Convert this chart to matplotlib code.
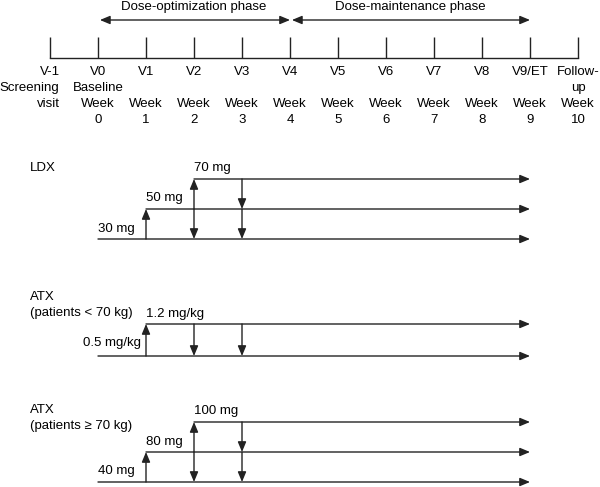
import matplotlib.pyplot as plt

plt.rcParams['font.family'] = ['Liberation Sans', 'DejaVu Sans']

# timeline of visits (x = study week)
visit_weeks = [-1, 0, 1, 2, 3, 4, 5, 6, 7, 8, 9, 10]
visit_names = ['V-1', 'V0', 'V1', 'V2', 'V3', 'V4', 'V5', 'V6', 'V7', 'V8', 'V9/ET', 'Follow-']
visit_line2 = ['Screening', 'Baseline', '', '', '', '', '', '', '', '', '', 'up']
visit_line3 = ['visit', 'Week', 'Week', 'Week', 'Week', 'Week', 'Week', 'Week', 'Week', 'Week', 'Week', 'Week']
visit_line4 = ['', '0', '1', '2', '3', '4', '5', '6', '7', '8', '9', '10']

phase_names = ['Dose-optimization phase', 'Dose-maintenance phase']
phase_start = [0, 4]
phase_end = [4, 9]

# dosing arms: dose labels, week each dose level starts, titration steps (week, from level, to level)
ldx_title = ['LDX']
ldx_doses = ['30 mg', '50 mg', '70 mg']
ldx_start = [0, 1, 2]
ldx_steps = [(1, 0, 1), (2, 1, 2), (2, 1, 0), (3, 2, 1), (3, 1, 0)]

atx_low_title = ['ATX', '(patients < 70 kg)']
atx_low_doses = ['0.5 mg/kg', '1.2 mg/kg']
atx_low_start = [0, 1]
atx_low_steps = [(1, 0, 1), (2, 1, 0), (3, 1, 0)]

atx_high_title = ['ATX', '(patients \u2265 70 kg)']
atx_high_doses = ['40 mg', '80 mg', '100 mg']
atx_high_start = [0, 1, 2]
atx_high_steps = [(1, 0, 1), (2, 1, 2), (2, 1, 0), (3, 2, 1), (3, 1, 0)]

dose_end_week = 9

LC = '#222222'
FS = 9.5
ARROW = '-|>,head_length=0.6,head_width=0.25'


def arrow(ax, x0, y0, x1, y1, style=ARROW):
    ax.annotate('', xy=(x1, y1), xytext=(x0, y0),
                arrowprops=dict(arrowstyle=style, color=LC, lw=1.0,
                                shrinkA=0, shrinkB=0, mutation_scale=10))


def draw_arm(ax, title, title_y, doses, starts, steps, levels, label_dx, label_dy):
    for s, y in zip(title, title_y):
        ax.text(-1.42, y, s, fontsize=FS, ha='left', va='center')
    for d, s, y, dx, dy in zip(doses, starts, levels, label_dx, label_dy):
        arrow(ax, s, y, dose_end_week, y)
        ax.text(s + dx, y - dy, d, fontsize=FS, ha='left', va='center')
    for wk, a, b in steps:
        arrow(ax, wk, levels[a], wk, levels[b])


fig = plt.figure(figsize=(6, 4.87), dpi=100)
ax = fig.add_axes([0, 0, 1, 1])
ax.set_xlim(-98 / 48, (600 - 98) / 48)
ax.set_ylim(487, 0)
ax.axis('off')

# timeline
ax.plot([visit_weeks[0], visit_weeks[-1]], [58, 58], color=LC, lw=1.0)
ax.vlines(visit_weeks, 37, 58, color=LC, lw=1.0)
for wk, n1, n2, n3, n4 in zip(visit_weeks, visit_names, visit_line2, visit_line3, visit_line4):
    if wk == -1:
        ax.text(wk, 72, n1, fontsize=FS, ha='center', va='center')
        ax.text(wk + 0.2, 88, n2, fontsize=FS, ha='right', va='center')
        ax.text(wk + 0.2, 104, n3, fontsize=FS, ha='right', va='center')
        continue
    for y, s in zip([72, 88, 104, 120], [n1, n2, n3, n4]):
        ax.text(wk, y, s, fontsize=FS, ha='center', va='center')

# phases
for name, a, b in zip(phase_names, phase_start, phase_end):
    arrow(ax, a + 0.04, 20, b, 20, style='<|-|>,head_length=0.6,head_width=0.25')
    ax.text((a + b) / 2, 7, name, fontsize=FS, ha='center', va='center')

draw_arm(ax, ldx_title, [168], ldx_doses, ldx_start, ldx_steps,
         [239, 209, 179], [0, 0, 0], [10, 11, 11])
draw_arm(ax, atx_low_title, [297, 313], atx_low_doses, atx_low_start, atx_low_steps,
         [356, 324], [-0.31, 0], [13, 10])
draw_arm(ax, atx_high_title, [410, 426], atx_high_doses, atx_high_start, atx_high_steps,
         [482, 452, 422], [0, 0, 0], [11, 10, 11])

fig.savefig('out.png', dpi=100)
